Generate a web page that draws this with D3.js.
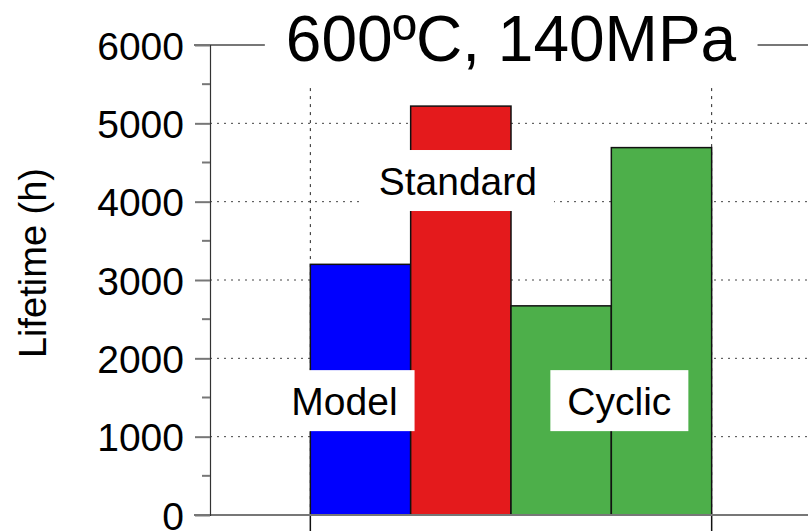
<!DOCTYPE html>
<html>
<head>
<meta charset="utf-8">
<script src="https://cdn.jsdelivr.net/npm/d3@7"></script>
<style>
  body { margin: 0; background: #fff; }
  svg { display: block; font-family: "Liberation Sans", Arial, Helvetica, sans-serif; }
</style>
</head>
<body>
<div id="chart"></div>
<script>
// bar data, left to right
const bars = ["Model", "Standard", "Cyclic 1", "Cyclic 2"]
const lifetimes = [3200, 5220, 2670, 4690]
const barGroups = ["Model", "Standard", "Cyclic"  , "Cyclic"]

const groups = ["Model", "Standard", "Cyclic"]
const groupColors = ["#0000ff", "#e41a1c", "#4daf4a"]

const yTicks = [0, 1000, 2000, 3000, 4000, 5000, 6000]
const yMinorTicks = [500, 1500, 2500, 3500, 4500, 5500]

const title = "600ºC, 140MPa"
const yTitle = "Lifetime (h)"

const width = 808, height = 531

// where the group labels sit, in data units (x in bar index, y in hours)
const labelPos = [[0.34, 1460], [1.47, 4270], [3.08, 1460]]

const svg = d3.select("#chart").append("svg")
    .attr("width", width)
    .attr("height", height)

const x = d3.scaleLinear().domain([-1, 5]).range([210, 812])
const y = d3.scaleLinear().domain([0, 6000]).range([515, 45])
const color = d3.scaleOrdinal().domain(groups).range(groupColors)

// horizontal grid
svg.append("g")
  .selectAll("line").data(yTicks.filter(d => d > 0 && d < 6000)).enter()
  .append("line")
    .attr("x1", x(-1)).attr("x2", width)
    .attr("y1", d => y(d)).attr("y2", d => y(d))
    .attr("stroke", "#444")
    .attr("stroke-width", 1)
    .attr("stroke-dasharray", "2,5")

// vertical grid at the outer bar edges
svg.append("g")
  .selectAll("line").data([0, bars.length]).enter()
  .append("line")
    .attr("x1", d => x(d)).attr("x2", d => x(d))
    .attr("y1", y(5450)).attr("y2", y(0))
    .attr("stroke", "#222")
    .attr("stroke-width", 1)
    .attr("stroke-dasharray", "3,5")

// bars
svg.append("g")
  .selectAll("rect").data(bars).enter()
  .append("rect")
    .attr("x", (d, i) => x(i))
    .attr("y", (d, i) => y(lifetimes[i]))
    .attr("width", (d, i) => x(i + 1) - x(i))
    .attr("height", (d, i) => y(0) - y(lifetimes[i]))
    .attr("fill", (d, i) => color(barGroups[i]))
    .attr("stroke", "#111")
    .attr("stroke-width", 1.5)

// x ticks below axis
svg.append("g")
  .selectAll("line").data([0, bars.length]).enter()
  .append("line")
    .attr("x1", d => x(d)).attr("x2", d => x(d))
    .attr("y1", y(0)).attr("y2", height)
    .attr("stroke", "#111")
    .attr("stroke-width", 1.5)

// bottom axis line
svg.append("line")
    .attr("x1", 194).attr("x2", width)
    .attr("y1", y(0)).attr("y2", y(0))
    .attr("stroke", "#777")
    .attr("stroke-width", 2)

// top frame line (broken by the title)
svg.append("line")
    .attr("x1", 194).attr("x2", width)
    .attr("y1", y(6000)).attr("y2", y(6000))
    .attr("stroke", "#777")
    .attr("stroke-width", 2)

// y axis
const yAxis = svg.append("g")
    .attr("transform", "translate(" + x(-1) + ",0)")
    .call(d3.axisLeft(y).tickValues(yTicks).tickSize(15).tickPadding(11).tickFormat(d3.format("d")))
yAxis.select(".domain").attr("stroke", "#333").attr("stroke-width", 1.2)
yAxis.selectAll(".tick line").attr("stroke", "#777").attr("stroke-width", 2)
yAxis.selectAll(".tick text")
    .attr("font-size", 39)
    .attr("font-family", "Liberation Sans, Arial, sans-serif")
    .attr("fill", "#000")
    .attr("dy", "0.36em")

svg.append("g")
  .selectAll("line").data(yMinorTicks).enter()
  .append("line")
    .attr("x1", x(-1) - 8).attr("x2", x(-1))
    .attr("y1", d => y(d)).attr("y2", d => y(d))
    .attr("stroke", "#777")
    .attr("stroke-width", 2)

// y title
svg.append("text")
    .attr("transform", "translate(46,263) rotate(-90)")
    .attr("text-anchor", "middle")
    .attr("font-size", 38)
    .text(yTitle)

// group labels on white boxes
const labels = svg.append("g")
  .selectAll("g").data(groups).enter()
  .append("g")
    .attr("transform", (d, i) => "translate(" + x(labelPos[i][0]) + "," + y(labelPos[i][1]) + ")")

labels.append("rect").attr("fill", "#fff")
labels.append("text")
    .attr("text-anchor", "middle")
    .attr("y", 14)
    .attr("font-size", 39)
    .text(d => d)

labels.each(function() {
  const g = d3.select(this)
  const bb = g.select("text").node().getBBox()
  g.select("rect")
    .attr("x", bb.x - 17)
    .attr("width", bb.width + 34)
    .attr("y", -30.5)
    .attr("height", 61)
})

// title, with a white gap in the top frame line behind it
const titleGap = svg.append("rect").attr("fill", "#fff")
const titleText = svg.append("text")
    .attr("x", (x(-1) + x(5)) / 2)
    .attr("y", 61)
    .attr("text-anchor", "middle")
    .attr("font-size", 64)
    .text(title)
const tb = titleText.node().getBBox()
titleGap
    .attr("x", tb.x - 21)
    .attr("width", tb.width + 42)
    .attr("y", y(6000) - 3)
    .attr("height", 6)
</script>
</body>
</html>
